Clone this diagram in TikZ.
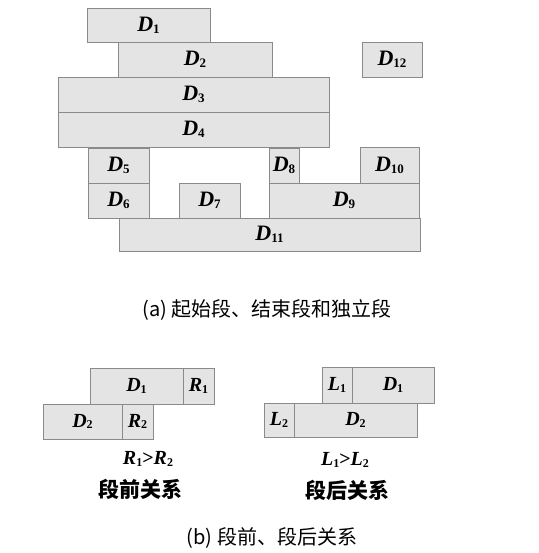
\documentclass[tikz,border=0pt]{standalone}
\usepackage{fontspec}
\setmainfont{Liberation Serif}
\newfontfamily\cjk{Noto Sans CJK SC}
\definecolor{blkfill}{HTML}{E4E4E4}
\definecolor{blkline}{HTML}{8A8A8A}
\newcommand{\labA}[2]{{\fontsize{22}{24}\selectfont\bfseries\itshape #1}\raisebox{-0.4ex}{\fontsize{13}{14}\selectfont\bfseries #2}}
\newcommand{\labB}[2]{{\fontsize{20}{22}\selectfont\bfseries\itshape #1}\raisebox{-0.4ex}{\fontsize{12}{13}\selectfont\bfseries #2}}
\newcommand{\blkat}[6]{\node[blk, minimum width={#4pt-#2pt}, minimum height={#5pt-#3pt}] (#1) at ({(#2+#4)/2},{(#3+#5)/2}) {#6};}
\tikzset{
  blk/.style={draw=blkline, fill=blkfill, line width=0.9pt, inner sep=0pt, rectangle},
  captext/.style={font=\cjk\fontsize{20}{22}\selectfont, inner sep=0pt},
  rel/.style={font=\cjk\fontsize{21}{23}\selectfont\bfseries, inner sep=0pt},
  ineq/.style={inner sep=0pt}
}
\begin{document}
\begin{tikzpicture}[x=1pt,y=-1pt]
\useasboundingbox (0,0) rectangle (538,553);
% part (a)
\blkat{a1}{87}{8}{210}{42}{\labA{D}{1}}
\blkat{a2}{118}{42}{272}{77}{\labA{D}{2}}
\blkat{a12}{362}{42}{422}{77}{\labA{D}{12}}
\blkat{a3}{58}{77}{329}{112}{\labA{D}{3}}
\blkat{a4}{58}{112}{329}{147}{\labA{D}{4}}
\blkat{a5}{88}{148}{149}{183}{\labA{D}{5}}
\blkat{a6}{88}{183}{149}{218}{\labA{D}{6}}
\blkat{a7}{179}{183}{240}{218}{\labA{D}{7}}
\blkat{a8}{269}{148}{299}{183}{\labA{D}{8}}
\blkat{a10}{360}{147}{419}{183}{\labA{D}{10}}
\blkat{a9}{269}{183}{419}{218}{\labA{D}{9}}
\blkat{a11}{119}{218}{420}{251}{\labA{D}{11}}
\node[captext] (capa) at (267,310) {(a) 起始段、结束段和独立段};
% part (b) left
\blkat{bd1}{90}{368}{183}{404}{\labB{D}{1}}
\blkat{br1}{183}{368}{214}{404}{\labB{R}{1}}
\blkat{bd2}{43}{404}{122}{439}{\labB{D}{2}}
\blkat{br2}{122}{404}{153}{439}{\labB{R}{2}}
\node[ineq] (rr) at (148,459) {\labB{R}{1}{\fontsize{20}{22}\selectfont\bfseries >}\labB{R}{2}};
\node[rel] (qian) at (140,489) {段前关系};
% part (b) right
\blkat{cl1}{322}{367}{352}{403}{\labB{L}{1}}
\blkat{cd1}{352}{367}{434}{403}{\labB{D}{1}}
\blkat{cl2}{264}{403}{294}{437}{\labB{L}{2}}
\blkat{cd2}{294}{403}{417}{437}{\labB{D}{2}}
\node[ineq] (ll) at (345,460) {\labB{L}{1}{\fontsize{20}{22}\selectfont\bfseries >}\labB{L}{2}};
\node[rel] (hou) at (347,490) {段后关系};
\node[captext] (capb) at (272,538) {(b) 段前、段后关系};
\end{tikzpicture}
\end{document}
